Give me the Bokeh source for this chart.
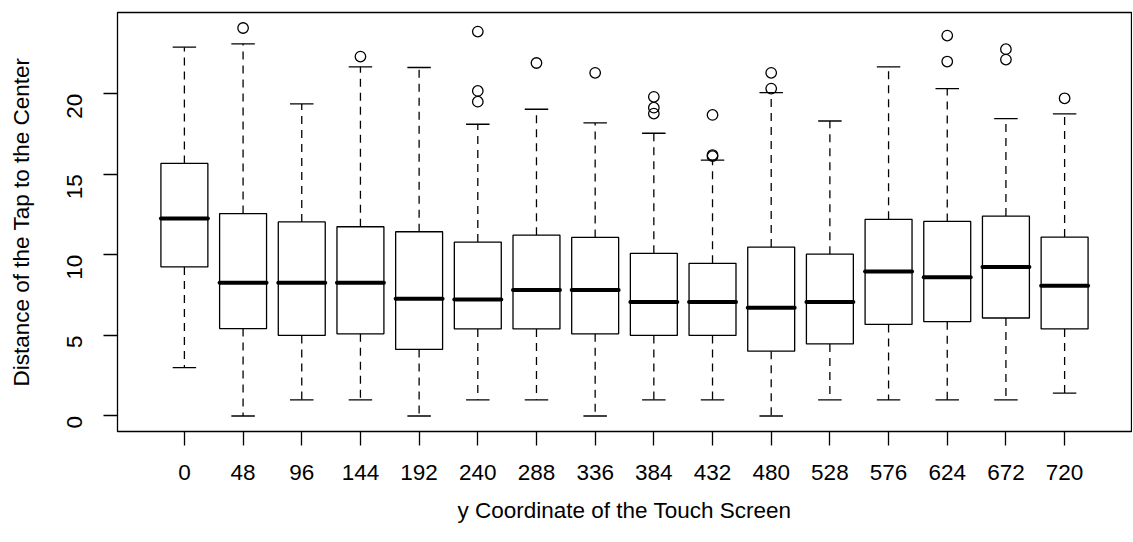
import math
from bokeh.plotting import figure
from bokeh.models import ColumnDataSource, Range1d, FixedTicker
from bokeh.embed import file_html
from bokeh.resources import INLINE

# ---- data ----
categories = ["0", "48", "96", "144", "192", "240", "288", "336",
              "384", "432", "480", "528", "576", "624", "672", "720"]
lower_whisker = [3.0, 0.0, 1.0, 1.0, 0.0, 1.0, 1.0, 0.0,
                 1.0, 1.0, 0.0, 1.0, 1.0, 1.0, 1.0, 1.42]
q1 = [9.25, 5.42, 5.0, 5.1, 4.13, 5.4, 5.4, 5.1,
      5.0, 5.0, 4.02, 4.47, 5.68, 5.85, 6.08, 5.4]
median = [12.25, 8.27, 8.27, 8.27, 7.28, 7.23, 7.82, 7.82,
          7.07, 7.07, 6.72, 7.07, 8.97, 8.6, 9.25, 8.08]
q3 = [15.67, 12.56, 12.04, 11.74, 11.43, 10.79, 11.22, 11.08,
      10.09, 9.47, 10.48, 10.04, 12.2, 12.07, 12.4, 11.1]
upper_whisker = [22.88, 23.09, 19.36, 21.66, 21.62, 18.1, 19.03, 18.18,
                 17.54, 15.88, 20.06, 18.3, 21.66, 20.31, 18.45, 18.74]
outlier_group = [2, 4, 6, 6, 6, 7, 8, 9, 9, 9, 10, 10, 10, 11, 11, 14, 14, 15, 15, 16]
outlier_value = [24.07, 22.3, 23.85, 20.17, 19.5, 21.9, 21.29, 19.8, 19.13, 18.76,
                 18.68, 16.19, 16.12, 21.29, 20.31, 23.6, 21.99, 22.76, 22.11, 19.71]

BOX_W = 0.8
STAPLE_W = 0.4
FONT = "Liberation Sans"
FS = "22.5px"

positions = list(range(1, len(categories) + 1))
src = ColumnDataSource(dict(
    x=positions,
    x_left=[p_ - BOX_W / 2 for p_ in positions],
    x_right=[p_ + BOX_W / 2 for p_ in positions],
    s_left=[p_ - STAPLE_W / 2 for p_ in positions],
    s_right=[p_ + STAPLE_W / 2 for p_ in positions],
    lw=lower_whisker, q1=q1, med=median, q3=q3, uw=upper_whisker,
))
out_src = ColumnDataSource(dict(x=outlier_group, y=outlier_value))

all_vals = lower_whisker + upper_whisker + outlier_value
lo, hi = min(all_vals), max(all_vals)
pad_y = 0.04 * (hi - lo)
xlo, xhi = 0.5, len(categories) + 0.5
pad_x = 0.04 * (xhi - xlo)

p = figure(width=1132, height=531, output_backend="svg", toolbar_location=None,
           x_range=Range1d(xlo - pad_x, xhi + pad_x),
           y_range=Range1d(lo - pad_y, hi + pad_y),
           min_border_left=117, min_border_right=1, min_border_top=12, min_border_bottom=100)

p.xgrid.visible = False
p.ygrid.visible = False
p.outline_line_color = "black"
p.outline_line_width = 1.3
p.background_fill_color = "white"
p.border_fill_color = "white"

# whiskers (dashed)
p.segment(x0="x", y0="q3", x1="x", y1="uw", source=src, line_color="black",
          line_width=1.3, line_dash="8 6")
p.segment(x0="x", y0="q1", x1="x", y1="lw", source=src, line_color="black",
          line_width=1.3, line_dash="8 6")
# staples
p.segment(x0="s_left", y0="uw", x1="s_right", y1="uw", source=src,
          line_color="black", line_width=1.3)
p.segment(x0="s_left", y0="lw", x1="s_right", y1="lw", source=src,
          line_color="black", line_width=1.3)
# boxes
p.vbar(x="x", width=BOX_W, bottom="q1", top="q3", source=src,
       fill_color="white", line_color="black", line_width=1.3)
# medians
p.segment(x0="x_left", y0="med", x1="x_right", y1="med", source=src,
          line_color="black", line_width=4, line_cap="round")
# outliers
p.scatter(x="x", y="y", source=out_src, marker="circle", size=10.5,
          fill_color=None, line_color="black", line_width=1.3)

# axes
for ax in (p.xaxis[0], p.yaxis[0]):
    ax.axis_line_color = None
    ax.major_tick_out = 14
    ax.major_tick_in = 0
    ax.major_tick_line_width = 1.3
    ax.major_tick_line_color = "black"
    ax.minor_tick_line_color = None
    ax.major_label_text_font = FONT
    ax.major_label_text_font_size = FS
    ax.major_label_text_color = "black"
    ax.axis_label_text_font = FONT
    ax.axis_label_text_font_size = FS
    ax.axis_label_text_font_style = "normal"
    ax.axis_label_text_color = "black"

p.xaxis.ticker = FixedTicker(ticks=positions)
p.xaxis.major_label_overrides = {pos: c for pos, c in zip(positions, categories)}
p.xaxis.axis_label = "y Coordinate of the Touch Screen"
p.xaxis.major_label_standoff = 19
p.xaxis.axis_label_standoff = 15

p.yaxis.ticker = FixedTicker(ticks=[0, 5, 10, 15, 20])
p.yaxis.major_label_orientation = math.pi / 2
p.yaxis.axis_label = "Distance of the Tap to the Center"
p.yaxis.major_label_standoff = 29
p.yaxis.axis_label_standoff = 23

open("out.html", "w").write(file_html(p, INLINE))
